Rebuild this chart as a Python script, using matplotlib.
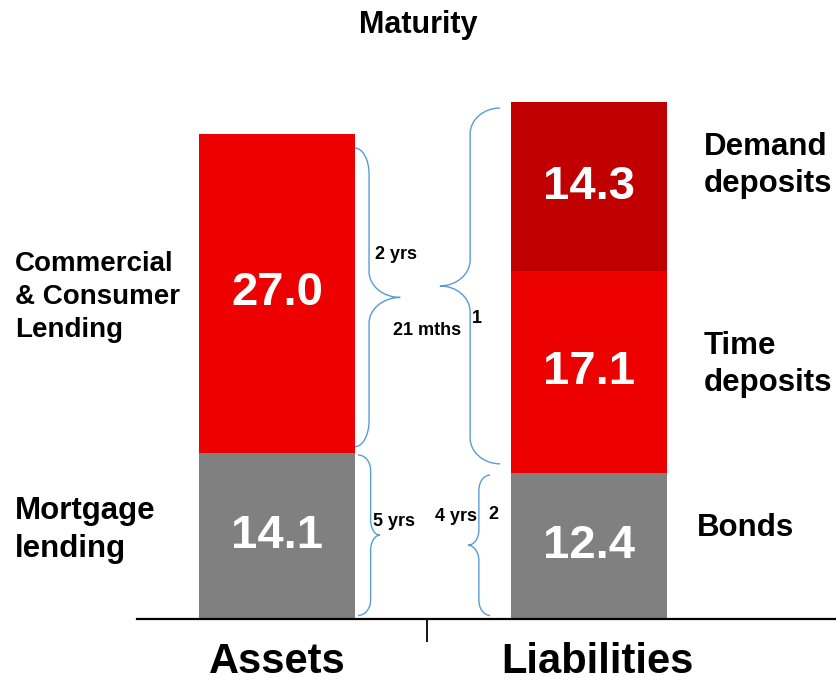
import numpy as np
import matplotlib
matplotlib.use('Agg')
import matplotlib.pyplot as plt
from matplotlib.path import Path
from matplotlib.patches import PathPatch
from matplotlib.transforms import blended_transform_factory

plt.rcParams['font.family'] = ['Liberation Sans', 'DejaVu Sans']
plt.rcParams['font.weight'] = 'bold'

# ── Data ───────────────────────────────────────────────────────────────────────

categories     = ['Assets', 'Liabilities']
asset_values   = [14.1, 27.0]
asset_names    = ['Mortgage\nlending', 'Commercial\n& Consumer\nLending']
asset_maturity = ['5 yrs', '2 yrs']
liab_values    = [12.4, 17.1, 14.3]
liab_names     = ['Bonds', 'Time\ndeposits', 'Demand\ndeposits']
liab_maturity  = ['4 yrs', '21 mths']
liab_notes     = ['2', '1']

GRAY, RED, DARK, BRACE = '#808080', '#EC0000', '#C00000', '#5B9BD5'
asset_colors = [GRAY, RED]
liab_colors  = [GRAY, RED, DARK]

BAR_W = 0.5
K = 0.5523  # bezier quarter-circle constant


def brace(ax, x_end, x_vert, x_tip, y_bot, y_top, r):
    ym = (y_bot + y_top) / 2
    dx = x_vert - x_end
    dt = x_vert - x_tip
    verts = [
        (x_end, y_top),
        (x_end + K*dx, y_top), (x_vert, y_top - r + K*r), (x_vert, y_top - r),
        (x_vert, ym + r),
        (x_vert, ym + r - K*r), (x_tip + K*dt, ym), (x_tip, ym),
        (x_tip + K*dt, ym), (x_vert, ym - r + K*r), (x_vert, ym - r),
        (x_vert, y_bot + r),
        (x_vert, y_bot + r - K*r), (x_end + K*dx, y_bot), (x_end, y_bot),
    ]
    codes = ([Path.MOVETO] + [Path.CURVE4]*3 + [Path.LINETO] + [Path.CURVE4]*6
             + [Path.LINETO] + [Path.CURVE4]*3)
    ax.add_patch(PathPatch(Path(verts, codes), fill=False, edgecolor=BRACE,
                           lw=1.0, clip_on=False))
    return ym


fig = plt.figure(figsize=(8.36, 6.83), dpi=100)
ax = fig.add_axes([0.1639, 0.0937, 0.8361, 0.7775])
ax.set_xlim(-0.4487, 1.7917)
ax.set_ylim(0, 45)

# ── Stacked bars ───────────────────────────────────────────────────────────────

def stack(x, values, colors):
    bottoms = np.concatenate([[0], np.cumsum(values)[:-1]])
    ax.bar([x]*len(values), values, bottom=bottoms, width=BAR_W,
           color=colors, edgecolor='none')
    for v, b in zip(values, bottoms):
        ax.text(x, b + v/2, f'{v:.1f}', ha='center', va='center',
                color='white', fontsize=34, fontweight='bold')
    return bottoms

a_bot = stack(0, asset_values, asset_colors)
l_bot = stack(1, liab_values, liab_colors)
a_mid = a_bot + np.array(asset_values)/2
l_mid = l_bot + np.array(liab_values)/2

# ── Braces & maturities ────────────────────────────────────────────────────────

a_edge = 0 + BAR_W/2
l_edge = 1 - BAR_W/2

# assets, lower (mortgage) and upper (commercial)
ym = brace(ax, a_edge + 0.01, a_edge + 0.05, a_edge + 0.08,
           0.3, asset_values[0] - 0.2, 1.3)
ax.text(0.375, ym + 1.2, asset_maturity[0], ha='center', va='center', fontsize=13)
ym = brace(ax, a_edge, a_edge + 0.045, a_edge + 0.145,
           asset_values[0] + 0.5, sum(asset_values) - 1.2, 2.2)
ax.text(0.381, ym + 3.6, asset_maturity[1], ha='center', va='center', fontsize=13)

# liabilities, lower (bonds) and upper (deposits)
ym = brace(ax, l_edge - 0.067, l_edge - 0.103, l_edge - 0.138,
           0.3, liab_values[0] - 0.2, 1.3)
ax.text(0.574, ym + 2.4, liab_maturity[0], ha='center', va='center', fontsize=13)
ax.text(0.692, ym + 2.6, liab_notes[0], ha='center', va='center', fontsize=13)
ym = brace(ax, l_edge - 0.035, l_edge - 0.131, l_edge - 0.228,
           liab_values[0] + 0.75, sum(liab_values) - 0.5, 2.2)
ax.text(0.481, ym - 3.8, liab_maturity[1], ha='center', va='center', fontsize=13)
ax.text(0.641, ym - 2.8, liab_notes[1], ha='center', va='center', fontsize=13)

# ── Side labels ────────────────────────────────────────────────────────────────

ytr = ax.get_yaxis_transform()
ax.text(-0.1745, a_mid[0] + 0.5, asset_names[0], transform=ytr, ha='left',
        va='center', fontsize=22.5, linespacing=1.33)
ax.text(-0.1745, a_mid[1] - 0.3, asset_names[1], transform=ytr, ha='left',
        va='center', fontsize=20, linespacing=1.34)

ax.text(1.346, l_mid[0] + 1.5, liab_names[0], ha='left', va='center',
        fontsize=22.5, clip_on=False)
ax.text(1.369, l_mid[1] + 0.6, liab_names[1], ha='left', va='center',
        fontsize=22.5, linespacing=1.31, clip_on=False)
ax.text(1.369, l_mid[2] + 1.75, liab_names[2], ha='left', va='center',
        fontsize=22.5, linespacing=1.31, clip_on=False)

# ── Axis ───────────────────────────────────────────────────────────────────────

for s in ['top', 'left', 'right']:
    ax.spines[s].set_visible(False)
ax.spines['bottom'].set_linewidth(1.6)
ax.set_yticks([])
ax.set_xticks([0.48])
ax.set_xticklabels([])
ax.tick_params(axis='x', length=16.5, width=1.3, direction='out')

btr = blended_transform_factory(ax.transData, fig.transFigure)
for i, c in enumerate(categories):
    ax.text(i + 0.027*i, 0.015, c, transform=btr, ha='center', va='baseline',
            fontsize=30, fontweight='bold')

fig.text(0.5, 0.9517, 'Maturity', ha='center', va='baseline', fontsize=22,
         fontweight='bold')

fig.savefig('out.png', dpi=100)
